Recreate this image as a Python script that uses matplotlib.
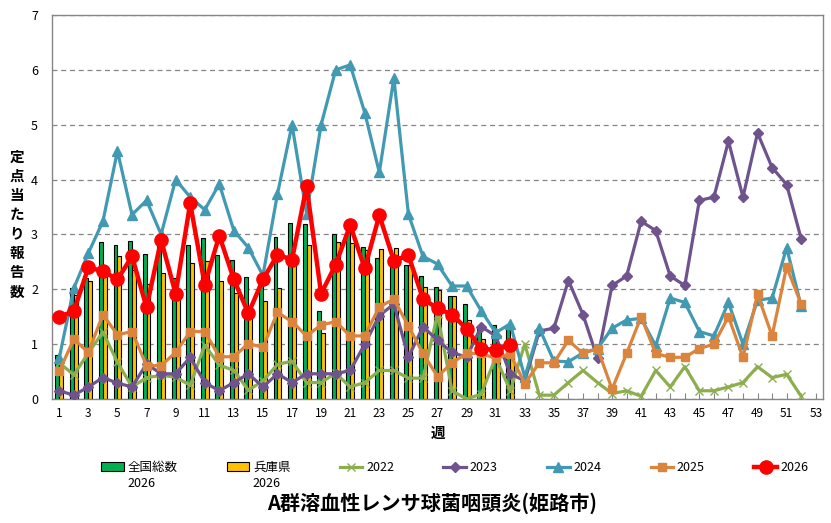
import matplotlib
matplotlib.use('Agg')
import matplotlib.pyplot as plt
import numpy as np

plt.rcParams['font.family'] = ['Noto Sans CJK JP', 'DejaVu Sans']

# ---------------- data ----------------
weeks_all = list(range(1, 53))          # 1..52 for past years
weeks_2026 = list(range(1, 33))         # 1..32 for current year

national_2026 = [0.80, 2.03, 2.20, 2.86, 2.81, 2.88, 2.64, 2.88, 2.20, 2.80, 2.94, 2.63, 2.54,
                 2.22, 2.20, 2.96, 3.21, 3.19, 1.60, 3.01, 3.05, 2.77, 2.57, 2.52, 2.44, 2.24,
                 2.05, 1.87, 1.73, 1.30, 1.35, 1.32]
hyogo_2026 = [0.55, 1.90, 2.15, 2.30, 2.61, 2.35, 2.10, 2.30, 2.00, 2.48, 2.51, 2.15, 1.94,
              1.55, 1.79, 2.02, 2.55, 2.80, 1.20, 2.86, 2.85, 2.72, 2.74, 2.76, 2.45, 2.04,
              1.99, 1.87, 1.44, 1.09, 0.95, 0.94]

y2022 = [0.66, 0.44, 0.84, 1.22, 0.67, 0.22, 0.39, 0.43, 0.40, 0.25, 0.98, 0.62, 0.52,
         0.16, 0.33, 0.63, 0.69, 0.30, 0.30, 0.47, 0.22, 0.30, 0.52, 0.52, 0.38, 0.38,
         1.55, 0.15, 0.00, 0.09, 0.76, 0.15, 1.00, 0.07, 0.07, 0.30, 0.52, 0.30, 0.10,
         0.15, 0.05, 0.52, 0.22, 0.59, 0.15, 0.15, 0.22, 0.30, 0.59, 0.39, 0.45, 0.05]
y2023 = [0.15, 0.07, 0.22, 0.39, 0.29, 0.22, 0.64, 0.46, 0.46, 0.76, 0.30, 0.15, 0.30,
         0.46, 0.22, 0.46, 0.30, 0.46, 0.46, 0.46, 0.52, 1.00, 1.52, 1.73, 0.76, 1.32,
         1.07, 0.85, 0.76, 1.32, 1.15, 0.46, 0.33, 1.24, 1.29, 2.16, 1.54, 0.74, 2.07,
         2.24, 3.24, 3.07, 2.24, 2.07, 3.62, 3.68, 4.70, 3.68, 4.85, 4.22, 3.91, 2.92]
y2024 = [0.75, 2.02, 2.66, 3.24, 4.52, 3.36, 3.62, 3.00, 4.00, 3.68, 3.45, 3.92, 3.07,
         2.76, 2.25, 3.74, 5.00, 3.38, 5.00, 6.00, 6.09, 5.22, 4.13, 5.85, 3.37, 2.60,
         2.46, 2.06, 2.06, 1.61, 1.21, 1.37, 0.40, 1.29, 0.69, 0.68, 0.84, 0.92, 1.29,
         1.44, 1.47, 0.97, 1.84, 1.76, 1.23, 1.15, 1.76, 1.00, 1.80, 1.84, 2.76, 1.69]
y2025 = [0.51, 1.09, 0.85, 1.54, 1.17, 1.23, 0.61, 0.61, 0.85, 1.23, 1.23, 0.77, 0.77,
         1.01, 0.94, 1.58, 1.41, 1.15, 1.35, 1.41, 1.15, 1.15, 1.68, 1.82, 1.33, 0.83,
         0.41, 0.66, 0.83, 0.83, 0.74, 0.82, 0.28, 0.66, 0.66, 1.07, 0.83, 0.92, 0.18,
         0.83, 1.50, 0.83, 0.76, 0.76, 0.92, 1.00, 1.50, 0.76, 1.91, 1.15, 2.41, 1.73]
y2026 = [1.50, 1.60, 2.40, 2.33, 2.18, 2.60, 1.67, 2.90, 1.92, 3.57, 2.08, 2.98, 2.18,
         1.56, 2.18, 2.63, 2.54, 3.88, 1.92, 2.45, 3.17, 2.38, 3.35, 2.52, 2.62, 1.83,
         1.65, 1.54, 1.28, 0.91, 0.90, 0.99]

x_ticks = list(range(1, 54))
x_ticklabels = [str(w) if w % 2 == 1 else '' for w in x_ticks]
y_ticks = [0, 1, 2, 3, 4, 5, 6, 7]

title = 'A群溶血性レンサ球菌咽頭炎(姫路市)'
ylabel = '定点当たり報告数'
xlabel = '週'

# ---------------- figure ----------------
W, H = 831, 523
fig = plt.figure(figsize=(W / 100, H / 100), dpi=100)
ax = fig.add_axes([52 / W, 1 - 399 / H, (823 - 52) / W, (399 - 15) / H])

wa = np.array(weeks_2026)
bw = 0.27
b1 = ax.bar(wa - 0.135, national_2026, width=bw, color='#00B050', edgecolor='black',
            linewidth=0.8, zorder=2, label='全国総数')
b2 = ax.bar(wa + 0.135, hyogo_2026, width=bw, color='#FFC000', edgecolor='black',
            linewidth=0.8, zorder=2, label='兵庫県')

l22, = ax.plot(weeks_all, y2022, color='#8DAE4F', lw=2.3, marker='x', ms=6, mew=1.0,
               mec='#8DAE4F', zorder=3, label='2022')
l23, = ax.plot(weeks_all, y2023, color='#6F538D', lw=2.3, marker='D', ms=5,
               zorder=3, label='2023')
l24, = ax.plot(weeks_all, y2024, color='#4299B2', lw=2.3, marker='^', ms=6.5,
               zorder=3, label='2024')
l25, = ax.plot(weeks_all, y2025, color='#DB843D', lw=2.3, marker='s', ms=6,
               zorder=3, label='2025')
l26, = ax.plot(weeks_2026, y2026, color='#FF0000', lw=3.2, marker='o', ms=9.5,
               zorder=4, label='2026')

ax.set_xlim(0.5, 53.5)
ax.set_ylim(0, 7)
ax.set_yticks(y_ticks)
ax.set_xticks(x_ticks)
ax.set_xticklabels(x_ticklabels)
ax.tick_params(axis='y', length=0, labelsize=9, pad=10)
ax.tick_params(axis='x', direction='in', length=4, color='#868686', labelsize=8.5, pad=6)
ax.set_axisbelow(True)
ax.yaxis.grid(True, linestyle=(0, (4, 3)), color='#868686', linewidth=0.9)
for s in ax.spines.values():
    s.set_color('#868686')
    s.set_linewidth(1.0)

fig.text(438 / W, 1 - 433 / H, xlabel, ha='center', va='center', fontsize=10.5,
         fontweight='bold')
fig.text(17 / W, 1 - 224 / H, '\n'.join(ylabel), ha='center', va='center', fontsize=10.5,
         fontweight='bold', linespacing=1.25)

handles = [b1, b2, l22, l23, l24, l25, l26]
labels = ['全国総数', '兵庫県', '2022', '2023', '2024', '2025', '2026']
leg = fig.legend(handles, labels, ncol=7, loc='upper left',
                 bbox_to_anchor=(101 / W, 1 - 461 / H), frameon=False, fontsize=9,
                 handlelength=1.8, handletextpad=0.3, columnspacing=3.95,
                 borderaxespad=0, borderpad=0)

fig.canvas.draw()
renderer = fig.canvas.get_renderer()
inv = fig.transFigure.inverted()
for t in leg.get_texts()[:2]:
    bb = t.get_window_extent(renderer)
    x0, y0 = inv.transform((bb.x0, bb.y0))
    fig.text(x0, y0 - 3 / H, '2026', ha='left', va='top', fontsize=9)

fig.text(432 / W, 1 - 503 / H, title, ha='center', va='center', fontsize=14.5,
         fontweight='bold')

fig.savefig('out.png', dpi=100)
